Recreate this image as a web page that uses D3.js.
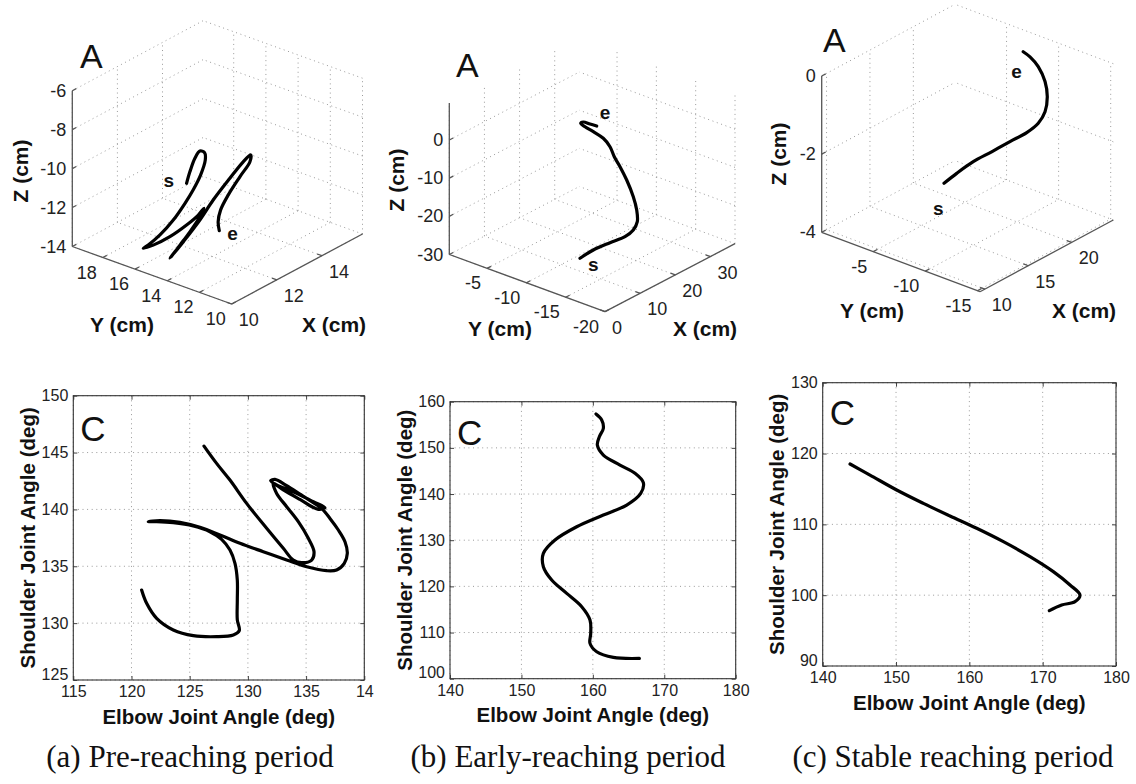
<!DOCTYPE html>
<html>
<head>
<meta charset="utf-8">
<script src="https://d3js.org/d3.v7.min.js"></script>
<style>
  body { margin: 0; background: #fff; }
  text { font-family: "Liberation Sans", Arial, sans-serif; }
  text.cap { font-family: "Liberation Serif", "Times New Roman", serif; }
</style>
</head>
<body>
<svg id="fig" width="1136" height="784"></svg>
<script>
// ---- hand path, 3-D (cm) ----
const aX3 = [11.89,12.04,12.26,12.48,12.69,12.72,12.51,12.18,11.82,11.30,10.71,10.54,10.32,10.76,11.15,11.89,12.41,12.66,12.48,11.68,11.24,10.80,11.39,12.48,13.07,13.81,14.40,14.73,14.70,14.26,13.74,13.40,13.29,13.34];
const aY3 = [15.45,15.45,15.45,15.45,15.45,15.45,15.45,15.45,15.45,15.45,15.45,15.94,15.94,15.94,15.45,15.45,15.45,15.45,15.45,14.95,14.95,14.95,14.95,15.45,15.45,15.45,15.45,15.45,15.45,15.45,15.45,15.45,15.45,15.45];
const aZ3 = [-10.60,-10.09,-9.54,-9.31,-9.52,-9.91,-10.56,-11.12,-11.58,-12.12,-12.52,-13.08,-13.11,-13.22,-12.88,-12.74,-12.55,-12.36,-12.68,-12.81,-13.22,-13.62,-13.14,-12.85,-12.19,-11.53,-11.05,-10.90,-11.23,-11.72,-12.34,-12.90,-13.44,-13.93];

const bX3 = [10.61,14.40,19.15,23.42,25.78,26.92,26.75,25.78,23.90,22.00,20.37,19.15,17.24,14.40,12.03,10.81,11.55,13.46,15.36];
const bY3 = [-12.08,-12.08,-12.08,-12.08,-12.08,-12.08,-12.08,-12.08,-12.08,-12.08,-12.08,-12.08,-12.08,-12.08,-12.08,-12.08,-12.08,-12.08,-12.08];
const bZ3 = [-27.11,-26.76,-27.14,-27.62,-27.00,-25.37,-22.23,-18.28,-13.00,-8.59,-5.19,-1.98,1.14,4.24,6.69,8.17,8.15,6.71,5.27];

const cX3 = [12.59,14.05,15.96,18.08,20.19,22.12,23.45,24.23,24.49,24.59,24.18,23.59,23.18];
const cY3 = [-9.17,-9.17,-9.17,-9.17,-9.17,-9.17,-9.17,-9.17,-9.17,-8.87,-8.56,-8.26,-7.95];
const cZ3 = [-2.21,-2.13,-2.06,-2.06,-2.05,-2.05,-1.97,-1.77,-1.42,-1.07,-0.67,-0.38,-0.23];

// ---- joint angles (deg) ----
const aElbow = [120.87,121.30,122.16,123.59,125.31,127.31,128.75,129.26,129.09,129.09,129.09,128.89,128.46,127.74,126.74,125.31,123.59,122.16,121.44,122.45,124.16,125.88,127.60,129.32,131.32,133.33,135.05,136.76,137.62,138.28,138.54,138.34,137.77,137.05,136.33,135.62,134.47,133.33,132.33,131.95,132.47,133.90,135.62,136.62,136.05,134.47,133.04,132.18,132.47,133.33,134.33,135.19,135.68,135.48,134.62,133.90,133.04,131.61,129.89,128.46,127.31,126.23];
const aShoulder = [132.91,131.74,130.42,129.40,128.90,128.81,128.96,129.34,130.28,132.03,133.79,135.26,136.43,137.37,138.04,138.54,138.83,138.92,138.92,139.01,138.86,138.42,137.75,137.02,136.28,135.55,134.96,134.61,134.67,135.26,136.14,137.16,138.19,139.21,140.09,140.59,141.35,142.09,142.64,142.53,142.15,141.56,140.68,140.15,140.01,140.88,141.71,142.29,141.41,140.24,138.92,137.46,136.28,135.55,135.32,135.55,136.58,138.34,140.53,142.58,144.05,145.57];

const bElbow = [160.44,161.24,161.47,160.91,160.63,161.47,163.80,165.90,167.07,166.70,164.74,161.47,157.74,154.70,153.07,153.07,154.24,156.34,158.44,159.60,159.70,159.60,160.54,162.87,166.51];
const bShoulder = [157.33,156.03,154.22,152.42,150.61,148.45,146.28,144.48,142.45,140.14,137.62,135.45,132.92,130.04,127.15,124.26,121.37,118.48,115.60,112.71,109.82,107.65,105.85,104.62,104.40];

const cElbow = [143.73,146.45,150.09,153.73,157.36,161.00,164.64,168.27,171.45,173.73,175.09,174.41,172.59,170.91];
const cShoulder = [118.52,116.96,114.85,112.96,111.18,109.44,107.55,105.44,103.32,101.44,100.02,99.08,98.61,97.81];

// ---- ticks ----
const aTicks3 = { x: [10,12,14], y: [10,12,14,16,18], z: [-14,-12,-10,-8,-6] };
const bTicks3 = { x: [0,10,20,30], y: [-20,-15,-10,-5], z: [-30,-20,-10,0] };
const cTicks3 = { x: [10,15,20], y: [-15,-10,-5], z: [-4,-2,0] };

const aElbowTicks = [115,120,125,130,135,140];
const aElbowLabels = ["115","120","125","130","135","14"];
const aShoulderTicks = [125,130,135,140,145,150];
const bElbowTicks = [140,150,160,170,180];
const bShoulderTicks = [100,110,120,130,140,150,160];
const cElbowTicks = [140,150,160,170,180];
const cShoulderTicks = [90,100,110,120,130];

const captions = ["(a) Pre-reaching period", "(b) Early-reaching period", "(c) Stable reaching period"];

const svg = d3.select("#fig");
const gridColor = "#9a9a9a";
const dots = "1,3.6";

function draw3d(c) {
  const g = svg.append("g");
  const su = d3.scaleLinear().domain(c.xDom).range([0, 1]);
  const sv = d3.scaleLinear().domain(c.yDom).range([0, 1]);
  const sw = d3.scaleLinear().domain(c.zDom).range([0, c.h]);
  const P = (x, y, z) => {
    const u = su(x), v = sv(y);
    return [c.ox + u * c.xv[0] + v * c.yv[0], c.oy + u * c.xv[1] + v * c.yv[1] - sw(z)];
  };
  const [x0, x1] = c.xDom, [y0, y1] = c.yDom, [z0, z1] = c.zDom;

  const grid = [];
  c.ticks.z.forEach(z => { grid.push([[x0, y1, z], [x1, y1, z]]); grid.push([[x1, y0, z], [x1, y1, z]]); });
  c.ticks.x.forEach(x => { grid.push([[x, y1, z0], [x, y1, z1]]); grid.push([[x, y0, z0], [x, y1, z0]]); });
  c.ticks.y.forEach(y => { grid.push([[x1, y, z0], [x1, y, z1]]); grid.push([[x0, y, z0], [x1, y, z0]]); });
  g.selectAll("line.grid").data(grid).join("line").attr("class", "grid")
    .attr("x1", d => P(...d[0])[0]).attr("y1", d => P(...d[0])[1])
    .attr("x2", d => P(...d[1])[0]).attr("y2", d => P(...d[1])[1])
    .attr("stroke", gridColor).attr("stroke-width", 1).attr("stroke-dasharray", dots);

  const axes = [[[x0, y1, z0], [x0, y1, z1]], [[x0, y0, z0], [x0, y1, z0]], [[x0, y0, z0], [x1, y0, z0]]];
  const tk = 0.03;
  c.ticks.x.forEach(x => axes.push([[x, y0, z0], [x, y0 + tk * (y1 - y0), z0]]));
  c.ticks.y.forEach(y => axes.push([[x0, y, z0], [x0 + tk * (x1 - x0), y, z0]]));
  c.ticks.z.forEach(z => axes.push([[x0, y1, z], [x0 + tk * (x1 - x0), y1, z]]));
  g.selectAll("line.ax").data(axes).join("line").attr("class", "ax")
    .attr("x1", d => P(...d[0])[0]).attr("y1", d => P(...d[0])[1])
    .attr("x2", d => P(...d[1])[0]).attr("y2", d => P(...d[1])[1])
    .attr("stroke", "#555").attr("stroke-width", 1.3);

  const fs = 18;
  g.selectAll("text.zt").data(c.ticks.z).join("text").attr("class", "zt")
    .attr("x", d => P(x0, y1, d)[0] - 6).attr("y", d => P(x0, y1, d)[1])
    .attr("text-anchor", "end").attr("dominant-baseline", "central")
    .attr("font-size", fs).attr("fill", "#222").text(d => d);
  g.selectAll("text.yt").data(c.ticks.y).join("text").attr("class", "yt")
    .attr("x", d => P(x0, d, z0)[0] - 6).attr("y", d => P(x0, d, z0)[1] + 15)
    .attr("text-anchor", "end").attr("dominant-baseline", "central")
    .attr("font-size", fs).attr("fill", "#222").text(d => d);
  g.selectAll("text.xt").data(c.ticks.x).join("text").attr("class", "xt")
    .attr("x", d => P(d, y0, z0)[0] + 7).attr("y", d => P(d, y0, z0)[1] + 16)
    .attr("text-anchor", "start").attr("dominant-baseline", "central")
    .attr("font-size", fs).attr("fill", "#222").text(d => d);

  const lab = (t, x, y, rot) => g.append("text").attr("transform", `translate(${x},${y})` + (rot ? " rotate(-90)" : ""))
    .attr("text-anchor", "middle").attr("dominant-baseline", "central")
    .attr("font-size", 21).attr("font-weight", "bold").attr("fill", "#111").text(t);
  lab("Z (cm)", c.zLab[0], c.zLab[1], true);
  lab("Y (cm)", c.yLab[0], c.yLab[1], false);
  lab("X (cm)", c.xLab[0], c.xLab[1], false);

  g.append("text").attr("x", c.A[0]).attr("y", c.A[1]).attr("font-size", 34).attr("fill", "#111").text("A");

  const pts = c.xs.map((x, i) => P(x, c.ys[i], c.zs[i]));
  g.append("path").attr("d", d3.line().curve(d3.curveCatmullRom.alpha(0.5))(pts))
    .attr("fill", "none").attr("stroke", "#000").attr("stroke-width", 3.2)
    .attr("stroke-linejoin", "round").attr("stroke-linecap", "round");

  const s = pts[0], e = pts[pts.length - 1];
  g.append("text").attr("x", s[0] + c.sOff[0]).attr("y", s[1] + c.sOff[1])
    .attr("font-size", 19).attr("font-weight", "bold").attr("fill", "#111").text("s");
  g.append("text").attr("x", e[0] + c.eOff[0]).attr("y", e[1] + c.eOff[1])
    .attr("font-size", 19).attr("font-weight", "bold").attr("fill", "#111").text("e");
}

function draw2d(c) {
  const g = svg.append("g");
  const x = d3.scaleLinear().domain(c.xDom).range([c.left, c.right]);
  const y = d3.scaleLinear().domain(c.yDom).range([c.bottom, c.top]);

  g.selectAll("line.gx").data(c.xTicks).join("line").attr("class", "gx")
    .attr("x1", d => x(d)).attr("x2", d => x(d)).attr("y1", c.top).attr("y2", c.bottom)
    .attr("stroke", gridColor).attr("stroke-dasharray", dots);
  g.selectAll("line.gy").data(c.yTicks).join("line").attr("class", "gy")
    .attr("y1", d => y(d)).attr("y2", d => y(d)).attr("x1", c.left).attr("x2", c.right)
    .attr("stroke", gridColor).attr("stroke-dasharray", dots);

  const fmt = c.xLabels ? (d, i) => c.xLabels[i] : d => d;
  const ax = (axis, tx, ty) => {
    const a = g.append("g").attr("transform", `translate(${tx},${ty})`).call(axis);
    a.select(".domain").remove();
    a.selectAll("line").attr("stroke", "#444");
    a.selectAll("text").attr("font-size", 16).attr("fill", "#222");
    return a;
  };
  ax(d3.axisBottom(x).tickValues(c.xTicks).tickFormat(fmt).tickSize(-4).tickPadding(c.xPad), 0, c.bottom);
  const yl = ax(d3.axisLeft(y).tickValues(c.yTicks).tickSize(-4).tickPadding(5), c.left, 0);
  // lowest label sits just above the x labels, as in the source
  yl.selectAll("text").filter(d => d === c.yDom[0]).attr("dy", "-0.05em");
  ax(d3.axisTop(x).tickValues(c.xTicks).tickFormat("").tickSize(-4), 0, c.top);
  ax(d3.axisRight(y).tickValues(c.yTicks).tickFormat("").tickSize(-4), c.right, 0);

  g.append("rect").attr("x", c.left).attr("y", c.top)
    .attr("width", c.right - c.left).attr("height", c.bottom - c.top)
    .attr("fill", "none").attr("stroke", "#333").attr("stroke-width", 1.1);

  const pts = c.xs.map((v, i) => [x(v), y(c.ys[i])]);
  g.append("path").attr("d", d3.line().curve(d3.curveCatmullRom.alpha(0.5))(pts))
    .attr("fill", "none").attr("stroke", "#000").attr("stroke-width", 3.2)
    .attr("stroke-linejoin", "round").attr("stroke-linecap", "round");

  g.append("text").attr("x", c.left + 7).attr("y", c.top + c.cDy).attr("font-size", 35).attr("fill", "#111").text("C");

  g.append("text").attr("x", (c.left + c.right) / 2).attr("y", c.bottom + 36)
    .attr("text-anchor", "middle").attr("dominant-baseline", "central")
    .attr("font-size", 20.5).attr("font-weight", "bold").attr("fill", "#111").text("Elbow Joint Angle (deg)");
  g.append("text").attr("transform", `translate(${c.left - 46},${(c.top + c.bottom) / 2}) rotate(-90)`)
    .attr("text-anchor", "middle").attr("dominant-baseline", "central")
    .attr("font-size", 20.5).attr("font-weight", "bold").attr("fill", "#111").text("Shoulder Joint Angle (deg)");
}

draw3d({ xDom: [10, 15.8], yDom: [10, 19.9], zDom: [-14, -6], ticks: aTicks3,
  ox: 231.7, oy: 304, xv: [130.8, -70], yv: [-159.4, -57.5], h: 155.8,
  zLab: [20, 171], yLab: [122, 324], xLab: [334, 324], A: [80, 68],
  xs: aX3, ys: aY3, zs: aZ3, sOff: [-23, 4], eOff: [8, 9] });
draw3d({ xDom: [0, 37], yDom: [-20, -0.2], zDom: [-30, 9.7], ticks: bTicks3,
  ox: 605, oy: 311.7, xv: [130, -68], yv: [-155.7, -57.2], h: 151.5,
  zLab: [396, 180], yLab: [500, 328], xLab: [705, 328], A: [456, 77],
  xs: bX3, ys: bY3, zs: bZ3, sOff: [8, 13], eOff: [3, -7] });
draw3d({ xDom: [9.44, 24.8], yDom: [-15.25, -0.05], zDom: [-4, 0], ticks: cTicks3,
  ox: 980, oy: 291.7, xv: [133.3, -71.7], yv: [-158.3, -59.4], h: 156.3,
  zLab: [778, 154], yLab: [872, 310], xLab: [1084, 310], A: [823, 52],
  xs: cX3, ys: cY3, zs: cZ3, sOff: [-11, 32], eOff: [-12, 26] });

draw2d({ xDom: [115, 140], yDom: [125, 150], left: 73.3, right: 364.3, top: 395.7, bottom: 680,
  xTicks: aElbowTicks, xLabels: aElbowLabels, yTicks: aShoulderTicks, xPad: 6, cDy: 45,
  xs: aElbow, ys: aShoulder });
draw2d({ xDom: [140, 180], yDom: [100, 160], left: 450, right: 735.7, top: 401.7, bottom: 678.7,
  xTicks: bElbowTicks, yTicks: bShoulderTicks, xPad: 6, cDy: 43,
  xs: bElbow, ys: bShoulder });
draw2d({ xDom: [140, 180], yDom: [90, 130], left: 822.7, right: 1116, top: 382.7, bottom: 666,
  xTicks: cElbowTicks, yTicks: cShoulderTicks, xPad: 6, cDy: 42,
  xs: cElbow, ys: cShoulder });

svg.selectAll("text.cap").data(captions).join("text").attr("class", "cap")
  .attr("x", (d, i) => [190, 568, 953][i]).attr("y", 767)
  .attr("text-anchor", "middle")
  .attr("font-size", 31).attr("fill", "#111").text(d => d);
</script>
</body>
</html>
